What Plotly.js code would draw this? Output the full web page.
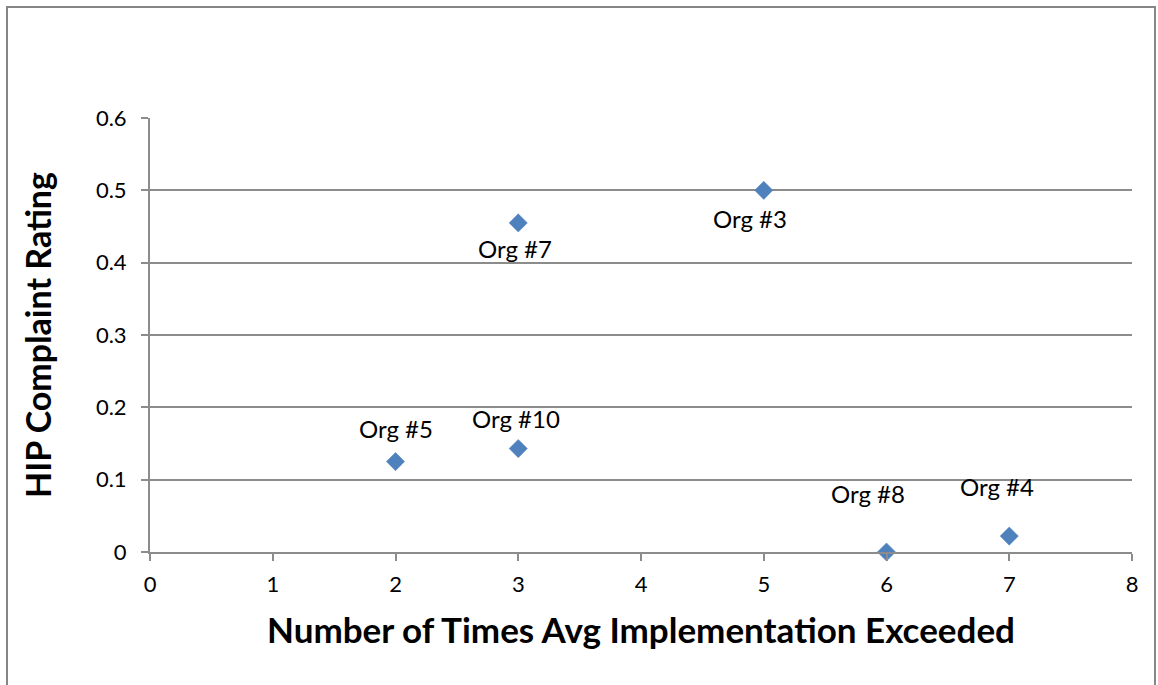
<!DOCTYPE html>
<html>
<head>
<meta charset="utf-8">
<script src="https://cdn.plot.ly/plotly-3.0.1.min.js"></script>
<style>
  html, body { margin: 0; padding: 0; background: #fff; }
  #wrap { position: relative; width: 1158px; height: 685px; }
  #chart { position: absolute; left: 0; top: 0; width: 1158px; height: 685px; }
  #frame { position: absolute; left: 6px; top: 6px; width: 1150px; height: 690px; border: 2px solid #868686; box-sizing: border-box; pointer-events: none; }
</style>
</head>
<body>
<div id="wrap">
  <div id="chart"></div>
  <div id="frame"></div>
</div>
<script>
// Data
const orgNames = ["Org #5", "Org #10", "Org #7", "Org #3", "Org #8", "Org #4"];
const timesExceeded = [2, 3, 3, 5, 6, 7];
const complaintRating = [0.125, 0.143, 0.455, 0.5, 0, 0.022];
const xTickVals = [0, 1, 2, 3, 4, 5, 6, 7, 8];
const yTickVals = [0, 0.1, 0.2, 0.3, 0.4, 0.5, 0.6];
const yTickText = ["0", "0.1", "0.2", "0.3", "0.4", "0.5", "0.6"];

// Label placement (pixel offsets, styling only)
const labelShiftX = [0, -2, -3, -14, -19, -12];
const labelShiftY = [33, 30, -26, -28, 59, 50];

const FONT = "Lato, 'Open Sans', sans-serif";
const gridColor = "#8c8c8c";

const trace = {
  type: "scatter",
  mode: "markers",
  x: timesExceeded,
  y: complaintRating,
  marker: { symbol: "diamond", size: 14, color: "#4F81BD", line: { width: 0.5, color: "#4F81BD" } },
  cliponaxis: false,
  hoverinfo: "x+y+text",
  text: orgNames,
  showlegend: false
};

const annotations = orgNames.map((name, i) => ({
  x: timesExceeded[i],
  y: complaintRating[i],
  xref: "x",
  yref: "y",
  text: name,
  showarrow: false,
  xshift: labelShiftX[i],
  yshift: labelShiftY[i],
  font: { family: FONT, size: 24, color: "#000" }
}));

const layout = {
  width: 1158,
  height: 685,
  paper_bgcolor: "#ffffff",
  plot_bgcolor: "#ffffff",
  margin: { l: 150, r: 26, t: 118, b: 133 },
  font: { family: FONT, color: "#000" },
  xaxis: {
    range: [0, 8],
    tickvals: xTickVals,
    ticktext: xTickVals.map(String),
    showgrid: false,
    zeroline: false,
    showline: true,
    linecolor: gridColor,
    linewidth: 2,
    ticks: "outside",
    ticklen: 7,
    tickwidth: 2,
    tickcolor: gridColor,
    tickfont: { family: FONT, size: 22, color: "#000" },
    ticklabelstandoff: 5,
    title: { text: "<b>Number of Times Avg Implementation Exceeded</b>", font: { family: FONT, size: 35, color: "#000" }, standoff: 22 },
    fixedrange: true
  },
  yaxis: {
    range: [0, 0.6],
    tickvals: yTickVals,
    ticktext: yTickText,
    showgrid: true,
    gridcolor: gridColor,
    gridwidth: 2,
    zeroline: false,
    showline: true,
    linecolor: gridColor,
    linewidth: 2,
    ticks: "outside",
    ticklen: 7,
    tickwidth: 2,
    tickcolor: gridColor,
    tickfont: { family: FONT, size: 22, color: "#000" },
    ticklabelstandoff: 10,
    title: { text: "<b>HIP Complaint Rating</b>", font: { family: FONT, size: 34, color: "#000" }, standoff: 34 },
    fixedrange: true
  },
  annotations: annotations
};

Plotly.newPlot("chart", [trace], layout, { displayModeBar: false, staticPlot: true });
</script>
</body>
</html>
